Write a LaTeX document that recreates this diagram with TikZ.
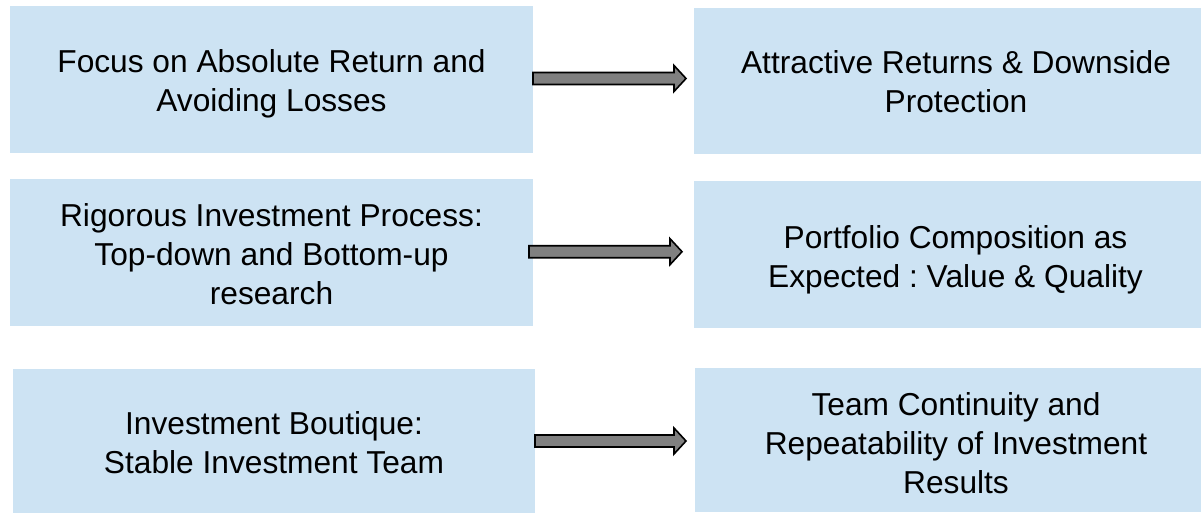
\documentclass[tikz,border=0pt]{standalone}
\usepackage{fontspec}
\setmainfont{Liberation Sans}
\frenchspacing
\definecolor{boxblue}{RGB}{205,227,243}
\definecolor{arrgray}{RGB}{128,128,128}
\newcommand\blockarr[3]{% x start, x tip, y center
  \draw[blockarrow] (#1,#3-6) -- (#2-12,#3-6) -- (#2-12,#3-13) -- (#2,#3) -- (#2-12,#3+13) -- (#2-12,#3+6) -- (#1,#3+6) -- cycle;}
\begin{document}
\begin{tikzpicture}[x=1pt,y=-1pt,
  bx/.style={fill=boxblue, draw=none, inner sep=0pt},
  txt/.style={inner sep=0pt, align=center, font=\fontsize{31.7}{39}\selectfont},
  blockarrow/.style={fill=arrgray, draw=black, line width=1.6pt, line join=miter}]
\useasboundingbox (0,0) rectangle (1201,513);
\fill[white] (0,0) rectangle (1201,513);
% left boxes
\node[bx, minimum width=523, minimum height=147] (l1) at (271.5,79.5) {};
\node[bx, minimum width=523, minimum height=147] (l2) at (271.5,252.5) {};
\node[bx, minimum width=522, minimum height=144] (l3) at (274,440.5) {};
% right boxes
\node[bx, minimum width=507, minimum height=146] (r1) at (947.5,81) {};
\node[bx, minimum width=507, minimum height=147] (r2) at (947.5,254.5) {};
\node[bx, minimum width=506, minimum height=144] (r3) at (948,440) {};
% texts
\node[txt] (tl1) at ([yshift=-5]l1.center) {\strut Focus on Absolute Return and\\\strut Avoiding Losses};
\node[txt] (tl2) at ([yshift=-5]l2.center) {\strut Rigorous Investment Process:\\\strut Top-down and Bottom-up\\\strut research};
\node[txt] (tl3) at ([yshift=-5.5]l3.center) {\strut Investment Boutique:\\\strut Stable Investment Team};
\node[txt] (tr1) at ([xshift=8.5,yshift=-4.5]r1.center) {\strut Attractive Returns \& Downside\\\strut Protection};
\node[txt] (tr2) at ([xshift=8,yshift=-5.5]r2.center) {\strut Portfolio Composition as\\\strut Expected : Value \& Quality};
\node[txt] (tr3) at ([xshift=8,yshift=-6.5]r3.center) {\strut Team Continuity and\\\strut Repeatability of Investment\\\strut Results};
% arrows
\blockarr{533}{686}{78.5}
\blockarr{529}{682}{251.7}
\blockarr{535}{686}{441}
\end{tikzpicture}
\end{document}
